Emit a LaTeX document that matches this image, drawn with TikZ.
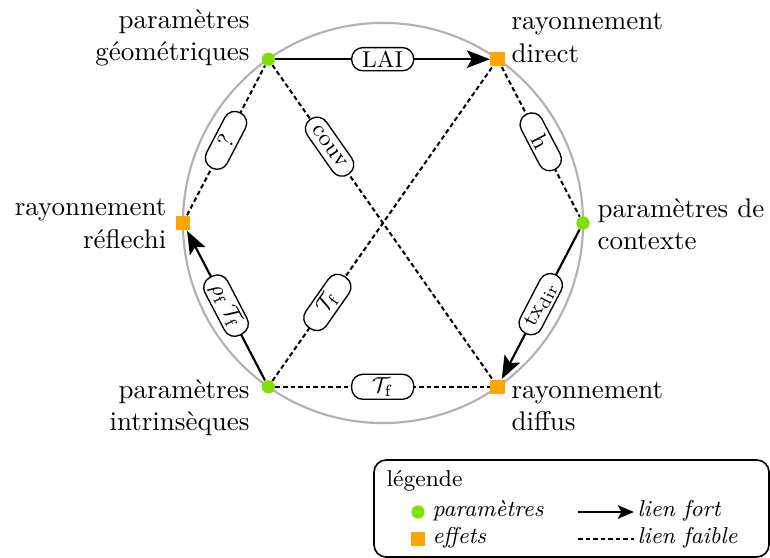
\documentclass[tikz,border=0pt]{standalone}
\usepackage{amsmath}
\usetikzlibrary{arrows.meta}
\definecolor{paramgreen}{RGB}{128,222,0}
\definecolor{effectorange}{RGB}{255,165,0}
\definecolor{circlegray}{RGB}{178,178,178}
\begin{document}
\begin{tikzpicture}[x=0.0130208cm,y=-0.0130208cm,
  param/.style={circle,fill=paramgreen,inner sep=0pt,minimum size=4.9pt},
  effet/.style={rectangle,fill=effectorange,inner sep=0pt,minimum size=5.4pt},
  lbl/.style={draw,solid,fill=white,rounded corners=4.2pt,minimum width=23pt,minimum height=8.6pt,
    inner xsep=3.5pt,inner ysep=1.2pt,sloped,line width=0.5pt,font=\fontsize{8.5}{10}\selectfont},
  fort/.style={line width=0.8pt,-{Stealth[length=8.5pt,width=6.5pt,inset=1.8pt]}},
  faible/.style={line width=0.75pt,dash pattern=on 1.7pt off 1.1pt},
  txt/.style={inner sep=0pt,font=\normalsize}]
\useasboundingbox (0,0) rectangle (770,558);
\draw[circlegray,line width=0.8pt] (383,223) circle[radius=2.604cm];

\node[param] (A) at (268.3,59.2) {};
\node[effet] (B) at (497.7,59.2) {};
\node[param] (C) at (583,223) {};
\node[effet] (D) at (497.7,386.8) {};
\node[param] (E) at (268.3,386.8) {};
\node[effet] (F) at (183,223) {};

\node[txt,anchor=south east,align=right] (tA) at (250,67) {paramètres\\géométriques};
\node[txt,anchor=south west,align=left] (tB) at (511,63) {rayonnement\\direct};
\node[txt,anchor=west,align=left] (tC) at (597,224) {paramètres de\\contexte};
\node[txt,anchor=east,align=right] (tF) at (167,224) {rayonnement\\réflechi};
\node[txt,anchor=north east,align=right] (tE) at (250,379) {paramètres\\intrinsèques};
\node[txt,anchor=north west,align=left] (tD) at (511,381) {rayonnement\\diffus};

\draw[fort] (A) -- node[lbl] (l1) {LAI} (B);
\draw[faible] (A) -- node[lbl,pos=0.26] (l2) {couv} (D);
\draw[faible] (F) -- node[lbl] (l3) {?} (A);
\draw[faible] (B) -- node[lbl] (l4) {h} (C);
\draw[fort] (C) -- node[lbl] (l5) {$\mathrm{tx}_{\mathrm{dir}}$} (D);
\draw[fort] (E) -- node[lbl] (l6) {$\rho_{\mathrm{f}}\,\mathcal{T}_{\mathrm{f}}$} (F);
\draw[faible] (E) -- node[lbl,pos=0.25] (l7) {$\mathcal{T}_{\mathrm{f}}$} (B);
\draw[faible] (E) -- node[lbl] (l8) {$\mathcal{T}_{\mathrm{f}}$} (D);

% legend
\draw[line width=0.6pt,rounded corners=4.5pt] (374,460) rectangle (769,557);
\begin{scope}[every node/.style={inner sep=0pt,font=\fontsize{8.5}{10}\selectfont}]
\node[anchor=base west] (lg) at (386,487) {légende};
\node[param,minimum size=4.9pt] (lp) at (418,512) {};
\node[effet,minimum size=5.2pt] (le) at (418,539) {};
\node[anchor=base west] (lpt) at (432,517) {\itshape paramètres};
\node[anchor=base west] (let) at (432,544) {\itshape effets};
\coordinate (fa) at (578,512);
\coordinate (fb) at (634,512);
\coordinate (wa) at (578,539);
\coordinate (wb) at (634,539);
\node[anchor=base west] (lft) at (637,517) {\itshape lien fort};
\node[anchor=base west] (lfb) at (637,544) {\itshape lien faible};
\end{scope}
\draw[line width=0.8pt,-{Stealth[length=6pt,width=5pt,inset=1.4pt]}] (fa) -- (fb);
\draw[faible] (wa) -- (wb);
\end{tikzpicture}
\end{document}
